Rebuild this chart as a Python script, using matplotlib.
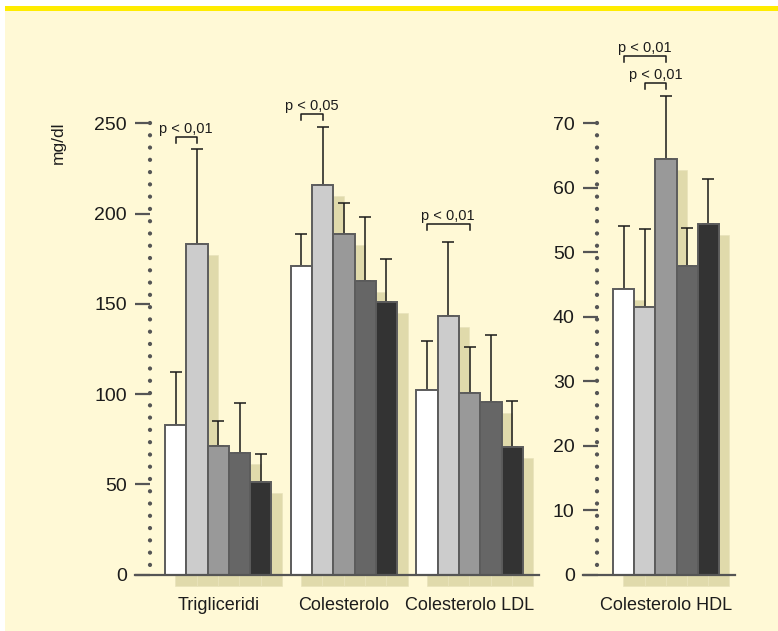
import numpy as np
import matplotlib
matplotlib.use("Agg")
import matplotlib.pyplot as plt
from matplotlib.patches import Rectangle
from matplotlib.transforms import ScaledTranslation

plt.rcParams['font.family'] = ['Liberation Sans', 'DejaVu Sans']

# ---- data -------------------------------------------------------------
groups_left = ["Trigliceridi", "Colesterolo", "Colesterolo LDL"]
group_right = "Colesterolo HDL"

trig_mean = [83, 183, 71, 67.5, 51]
trig_sd = [29, 53, 14, 27.5, 16]
col_mean = [171, 216, 188.5, 162.5, 151]
col_sd = [17.5, 32, 17.5, 35.5, 24]
ldl_mean = [102.5, 143, 100.5, 95.5, 70.5]
ldl_sd = [27, 41, 25.5, 37, 25.5]
hdl_mean = [44.3, 41.5, 64.4, 47.9, 54.4]
hdl_sd = [9.8, 12.1, 9.8, 5.8, 6.9]

left_ticks = [0, 50, 100, 150, 200, 250]
right_ticks = [0, 10, 20, 30, 40, 50, 60, 70]

# significance brackets: (group, first bar, second bar, label, level)
sig_left = [(0, 0, 1, "p < 0,01", 242.5),
            (1, 0, 1, "p < 0,05", 255.0),
            (2, 0, 2, "p < 0,01", 194.0)]
sig_right = [(0, 2, "p < 0,01", 80.4),
             (1, 2, "p < 0,01", 76.3)]

# ---- style ------------------------------------------------------------
W, H = 778, 631
bar_colors = ['#ffffff', '#cccccc', '#999999', '#666666', '#333333']
edge_col = '#5c5c5c'
shadow_col = '#e0daab'
axis_col = '#555555'
text_col = '#1c1c1c'
bg_col = '#fff9d6'

fig = plt.figure(figsize=(W / 100, H / 100), dpi=100)
fig.patch.set_facecolor('white')
fig.patches.append(Rectangle((5 / W, 0), 1, 1 - 10.7 / H, transform=fig.transFigure,
                             facecolor=bg_col, edgecolor='none', zorder=-10))
fig.patches.append(Rectangle((5 / W, 1 - 10.7 / H), 1, 5 / H, transform=fig.transFigure,
                             facecolor='#ffec00', edgecolor='none', zorder=-10))

base_px = 574.5
top_px = 123.3
ax_h_px = base_px - top_px

axL = fig.add_axes([135 / W, (H - base_px) / H, 404 / W, ax_h_px / H])
axR = fig.add_axes([583 / W, (H - base_px) / H, 152 / W, ax_h_px / H])

shadow_off = ScaledTranslation(0.105, -0.11, fig.dpi_scale_trans)


def draw_group(ax, x0, means, sds):
    x = x0 + np.arange(len(means))
    sh = ax.bar(x, means, width=1.0, color=shadow_col, edgecolor='#e9e3bb',
                linewidth=0.5, zorder=1)
    for p in sh:
        p.set_transform(ax.transData + shadow_off)
        p.set_clip_on(False)
    ax.errorbar(x, means, yerr=[np.zeros(len(means)), sds], fmt='none',
                ecolor='#1a1a1a', elinewidth=1.1, capsize=4, capthick=1.1,
                zorder=2, clip_on=False)
    bars = ax.bar(x, means, width=1.0, color=bar_colors, edgecolor=edge_col,
                  linewidth=1.4, zorder=3)
    for b in bars:
        b.set_clip_on(False)
    return x


def style_axis(ax, xlim, ymax, ticks, xdot):
    ax.set_xlim(*xlim)
    ax.set_ylim(0, ymax)
    ax.patch.set_visible(False)
    for s in ax.spines.values():
        s.set_visible(False)
    ax.set_xticks([])
    ax.set_yticks(ticks)
    ax.tick_params(axis='y', direction='in', length=10.8, width=1.6,
                   color=axis_col, pad=6, labelsize=14, labelcolor=text_col)
    ax.axhline(0, color=axis_col, lw=1.6, zorder=5, clip_on=False)
    ax.plot([xdot, xdot], [ymax, 0], color=axis_col, lw=3.1,
            linestyle=(0, (0.001, 2.85)), dash_capstyle='round',
            zorder=4, clip_on=False)


def bracket(ax, xa, xb, level, label, leg):
    ax.plot([xa, xa, xb, xb], [level - leg, level, level, level - leg],
            color='#1a1a1a', lw=1.1, zorder=6, clip_on=False)
    ax.annotate(label, xy=((xa + xb) / 2, level), xytext=(0, 3),
                textcoords='offset points', ha='center', va='baseline',
                fontsize=10.5, color=text_col, annotation_clip=False)


def category(ax, xc, name):
    ax.annotate(name, xy=(xc, 0), xytext=(0, -25.5), textcoords='offset points',
                ha='center', va='baseline', fontsize=13, color=text_col,
                annotation_clip=False)


# ---- left panel -------------------------------------------------------
offsets = [0.0, 5.9, 11.8]
left_data = [(trig_mean, trig_sd), (col_mean, col_sd), (ldl_mean, ldl_sd)]
style_axis(axL, (-1.908, 17.06), 250, left_ticks, -1.204)
for off, (m, s), name in zip(offsets, left_data, groups_left):
    x = draw_group(axL, off, m, s)
    category(axL, x.mean(), name)
legL = 6 * 250 / ax_h_px
for g, a, b, lab, lev in sig_left:
    bracket(axL, offsets[g] + a, offsets[g] + b, lev, lab, legL)

# ---- right panel ------------------------------------------------------
style_axis(axR, (-1.915, 5.255), 70, right_ticks, -1.255)
xr = draw_group(axR, 0.0, hdl_mean, hdl_sd)
category(axR, xr.mean(), group_right)
legR = 6 * 70 / ax_h_px
for a, b, lab, lev in sig_right:
    bracket(axR, a, b, lev, lab, legR)

fig.text(58 / W, 1 - 143 / H, 'mg/dl', rotation=90, ha='center', va='center',
         fontsize=12.5, color=text_col)

fig.savefig('out.png', dpi=100, facecolor=fig.get_facecolor())
